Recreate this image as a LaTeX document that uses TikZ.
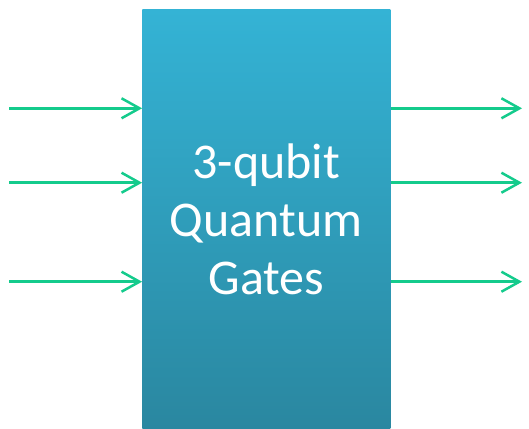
\documentclass[tikz,border=0pt]{standalone}
\usepackage{fontspec}
\setmainfont{Carlito}
\usetikzlibrary{arrows.meta}

\definecolor{gatetop}{RGB}{52,179,213}
\definecolor{gatebot}{RGB}{42,135,160}
\definecolor{wire}{RGB}{20,203,140}

\tikzset{
    gatebox/.style={rectangle, top color=gatetop, bottom color=gatebot, minimum width=248pt, minimum height=419pt, inner sep=0pt, align=center, text=white, font=\fontsize{50}{58}\selectfont},
    qwire/.style={wire, line width=2.5pt, -{Straight Barb[length=18pt,width=20pt,line width=2.5pt]}}
}

\begin{document}
\begin{tikzpicture}[x=1pt, y=-1pt]
    \useasboundingbox (0,0) rectangle (529,428);
    \node[gatebox] (gates) at (266.3,219.5) {3-qubit\\Quantum\\Gates};
    % inputs and outputs
    \foreach \i/\y in {1/108.3, 2/182.7, 3/281.7} {
        \coordinate (in\i) at (9,\y);
        \coordinate (out\i) at (522,\y);
        \draw[qwire] (in\i) -- (in\i -| gates.west);
        \draw[qwire] (out\i -| gates.east) -- (out\i);
    }
\end{tikzpicture}
\end{document}
